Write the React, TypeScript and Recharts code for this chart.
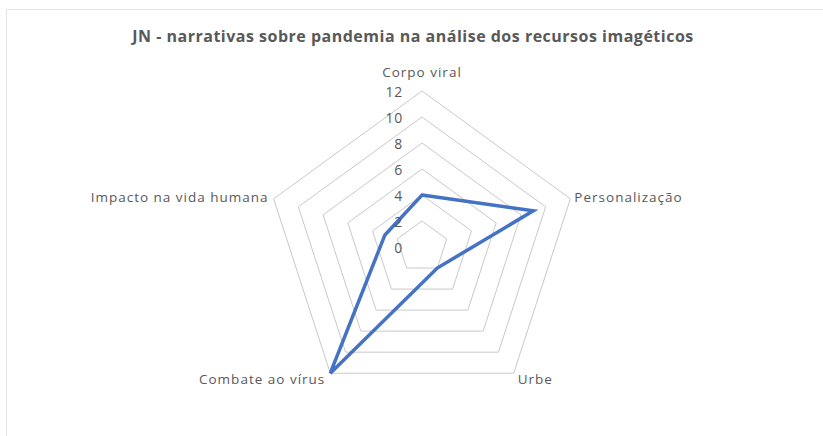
import { RadarChart, Radar, PolarGrid, PolarAngleAxis, PolarRadiusAxis } from "recharts";

const categories = [
  "Corpo viral",
  "Personalização",
  "Urbe",
  "Combate ao vírus",
  "Impacto na vida humana",
];
const values = [4, 9, 2, 12, 3];
const radiusTicks = [0, 2, 4, 6, 8, 10, 12];

const data = categories.map((c, i) => ({ category: c, value: values[i] }));

const CX = 422;
const CY = 247;
const R = 156;
const TEXT = "#595959";
const FONT = "'Open Sans', sans-serif";

const AngleTick = (props: any) => {
  const { payload } = props;
  const a = (payload.coordinate * Math.PI) / 180;
  const vx = CX + R * Math.cos(a);
  const vy = CY - R * Math.sin(a);
  const c = Math.cos(a);
  const s = Math.sin(a);
  let anchor = "middle";
  let dx = 0;
  let dy = -19;
  if (Math.abs(c) > 0.1) {
    anchor = c > 0 ? "start" : "end";
    dx = c > 0 ? 4 : -5;
    dy = s < 0 ? 6 : -2;
  }
  return (
    <text
      x={vx + dx}
      y={vy + dy}
      textAnchor={anchor}
      dominantBaseline="central"
      fill={TEXT}
      fontSize={13.5}
      letterSpacing={1}
      fontFamily={FONT}
    >
      {payload.value}
    </text>
  );
};

const RadiusTick = (props: any) => {
  const { x, y, payload } = props;
  return (
    <text
      x={x - 19}
      y={y}
      textAnchor="end"
      dominantBaseline="central"
      fill={TEXT}
      fontSize={14}
      letterSpacing={0.8}
      fontFamily={FONT}
    >
      {payload.value}
    </text>
  );
};

export default function App() {
  return (
    <div
      style={{
        position: "fixed",
        left: 0,
        top: 0,
        width: 823,
        height: 436,
        background: "#fff",
        overflow: "hidden",
      }}
    >
      {/* chart frame */}
      <div
        style={{
          position: "absolute",
          left: 6,
          top: 9,
          width: 900,
          height: 500,
          border: "1px solid #e3e3e3",
        }}
      />
      <div
        style={{
          position: "absolute",
          left: 0,
          top: 26,
          width: 826,
          textAlign: "center",
          fontFamily: FONT,
          fontWeight: 700,
          fontSize: 16,
          letterSpacing: 0.5,
          color: TEXT,
          lineHeight: "20px",
        }}
      >
        JN - narrativas sobre pandemia na análise dos recursos imagéticos
      </div>
      <div style={{ position: "absolute", left: 0, top: 0 }}>
        <RadarChart
          width={823}
          height={436}
          data={data}
          cx={CX}
          cy={CY}
          outerRadius={R}
          margin={{ top: 0, right: 0, bottom: 0, left: 0 }}
        >
          <PolarGrid gridType="polygon" radialLines={false} stroke="#c9c9c9" />
          <PolarAngleAxis dataKey="category" tick={AngleTick} tickLine={false} axisLine={false} />
          <PolarRadiusAxis
            angle={90}
            domain={[0, 12]}
            ticks={radiusTicks}
            tickCount={7}
            axisLine={false}
            tickLine={false}
            tick={RadiusTick}
          />
          <Radar
            dataKey="value"
            stroke="#4472C4"
            strokeWidth={3.5}
            fill="none"
            fillOpacity={0}
            dot={false}
            isAnimationActive={false}
          />
        </RadarChart>
      </div>
    </div>
  );
}
